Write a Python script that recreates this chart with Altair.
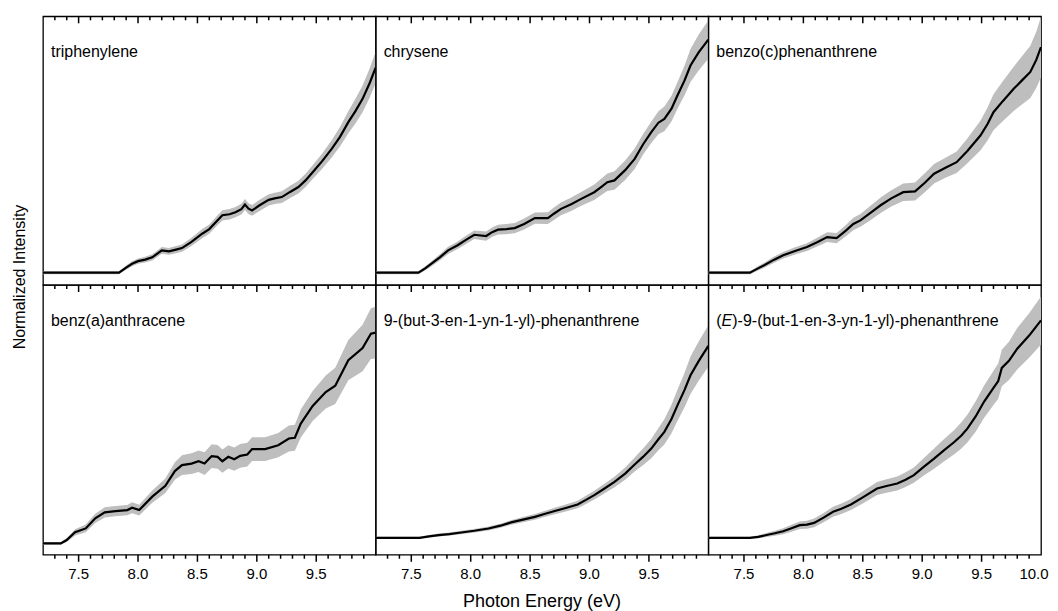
import altair as alt
import pandas as pd

# ---------------- data ----------------
names = ["triphenylene", "chrysene", "benzo(c)phenanthrene",
         "benz(a)anthracene", "9-(but-3-en-1-yn-1-yl)-phenanthrene",
         "(E)-9-(but-1-en-3-yn-1-yl)-phenanthrene"]

tri_x = [7.20, 7.84, 7.90, 7.95, 8.00, 8.06, 8.12, 8.20, 8.26, 8.32, 8.37, 8.45, 8.54, 8.60, 8.66, 8.71, 8.77, 8.82, 8.87,
         8.90, 8.93, 8.96, 9.02, 9.10, 9.15, 9.21, 9.28, 9.35, 9.41, 9.47, 9.55, 9.63, 9.70, 9.77, 9.83, 9.89, 9.95, 10.00]
tri_y = [0, 0, 0.020, 0.035, 0.045, 0.051, 0.060, 0.087, 0.083, 0.090, 0.096, 0.120, 0.152, 0.170, 0.200, 0.224, 0.228,
         0.236, 0.248, 0.266, 0.250, 0.243, 0.262, 0.284, 0.290, 0.295, 0.315, 0.334, 0.360, 0.392, 0.435, 0.483, 0.530,
         0.587, 0.630, 0.678, 0.740, 0.800]
tri_e = [0.006, 0.006, 0.008, 0.010, 0.010, 0.011, 0.012, 0.013, 0.013, 0.014, 0.014, 0.016, 0.018, 0.018, 0.019, 0.020,
         0.020, 0.020, 0.021, 0.021, 0.021, 0.021, 0.022, 0.022, 0.022, 0.023, 0.024, 0.025, 0.026, 0.027, 0.030, 0.034,
         0.038, 0.043, 0.048, 0.052, 0.057, 0.062]

chr_x = [7.20, 7.56, 7.62, 7.67, 7.74, 7.81, 7.89, 7.96, 8.03, 8.13, 8.18, 8.23, 8.30, 8.37, 8.45, 8.54, 8.65, 8.70, 8.76,
         8.85, 8.93, 9.04, 9.10, 9.15, 9.21, 9.30, 9.38, 9.45, 9.52, 9.58, 9.63, 9.69, 9.74, 9.80, 9.85, 9.92, 10.00]
chr_y = [0, 0, 0.018, 0.035, 0.060, 0.087, 0.107, 0.128, 0.148, 0.143, 0.158, 0.168, 0.170, 0.174, 0.190, 0.213, 0.213,
         0.230, 0.249, 0.268, 0.288, 0.314, 0.335, 0.353, 0.360, 0.400, 0.444, 0.500, 0.548, 0.585, 0.600, 0.640, 0.691,
         0.750, 0.808, 0.860, 0.909]
chr_e = [0.006, 0.006, 0.008, 0.010, 0.012, 0.014, 0.015, 0.016, 0.017, 0.018, 0.018, 0.019, 0.020, 0.020, 0.021, 0.022,
         0.023, 0.024, 0.025, 0.026, 0.027, 0.030, 0.032, 0.034, 0.036, 0.038, 0.040, 0.040, 0.042, 0.045, 0.048, 0.050,
         0.052, 0.058, 0.064, 0.070, 0.075]

bzc_x = [7.20, 7.55, 7.61, 7.67, 7.75, 7.83, 7.93, 8.03, 8.12, 8.20, 8.28, 8.36, 8.42, 8.48, 8.57, 8.65, 8.74, 8.84, 8.94,
         9.02, 9.10, 9.20, 9.29, 9.38, 9.49, 9.55, 9.60, 9.68, 9.77, 9.84, 9.91, 9.96, 10.00]
bzc_y = [0, 0, 0.015, 0.029, 0.050, 0.068, 0.085, 0.100, 0.120, 0.139, 0.135, 0.165, 0.190, 0.204, 0.235, 0.263, 0.290,
         0.314, 0.317, 0.350, 0.386, 0.410, 0.431, 0.475, 0.535, 0.580, 0.626, 0.670, 0.717, 0.750, 0.783, 0.830, 0.880]
bzc_e = [0.006, 0.006, 0.008, 0.010, 0.012, 0.013, 0.014, 0.015, 0.017, 0.019, 0.020, 0.022, 0.024, 0.025, 0.028, 0.030,
         0.032, 0.034, 0.035, 0.037, 0.038, 0.039, 0.042, 0.048, 0.058, 0.064, 0.070, 0.078, 0.086, 0.094, 0.102, 0.110,
         0.118]

baa_x = [7.20, 7.35, 7.40, 7.47, 7.56, 7.64, 7.72, 7.81, 7.91, 7.95, 8.01, 8.12, 8.23, 8.31, 8.37, 8.45, 8.51, 8.56, 8.62,
         8.67, 8.71, 8.76, 8.81, 8.86, 8.92, 8.96, 9.07, 9.18, 9.27, 9.32, 9.37, 9.47, 9.58, 9.66, 9.77, 9.89, 9.96, 10.00]
baa_y = [0, 0, 0.013, 0.043, 0.058, 0.097, 0.120, 0.125, 0.129, 0.138, 0.129, 0.181, 0.223, 0.280, 0.303, 0.309, 0.318,
         0.309, 0.338, 0.335, 0.318, 0.335, 0.326, 0.339, 0.344, 0.365, 0.365, 0.380, 0.406, 0.409, 0.464, 0.532, 0.586,
         0.610, 0.709, 0.756, 0.812, 0.816]
baa_e = [0.005, 0.005, 0.008, 0.012, 0.015, 0.018, 0.020, 0.020, 0.020, 0.021, 0.021, 0.024, 0.028, 0.034, 0.038, 0.040,
         0.042, 0.044, 0.046, 0.046, 0.045, 0.045, 0.045, 0.046, 0.046, 0.046, 0.046, 0.047, 0.050, 0.050, 0.054, 0.058,
         0.064, 0.070, 0.078, 0.090, 0.098, 0.100]

bey_x = [7.20, 7.57, 7.65, 7.73, 7.82, 7.92, 8.03, 8.15, 8.25, 8.34, 8.44, 8.54, 8.62, 8.70, 8.80, 8.90, 8.97, 9.04, 9.12,
         9.21, 9.30, 9.38, 9.45, 9.52, 9.58, 9.63, 9.69, 9.74, 9.80, 9.85, 9.92, 10.00]
bey_y = [0, 0, 0.006, 0.011, 0.015, 0.021, 0.028, 0.037, 0.048, 0.061, 0.072, 0.083, 0.094, 0.105, 0.118, 0.132, 0.150,
         0.169, 0.193, 0.221, 0.254, 0.290, 0.320, 0.353, 0.390, 0.419, 0.470, 0.524, 0.585, 0.643, 0.700, 0.759]
bey_e = [0.004, 0.004, 0.005, 0.006, 0.006, 0.007, 0.007, 0.008, 0.008, 0.009, 0.010, 0.011, 0.012, 0.013, 0.014, 0.015,
         0.016, 0.017, 0.019, 0.021, 0.024, 0.028, 0.033, 0.038, 0.044, 0.050, 0.056, 0.062, 0.068, 0.074, 0.078, 0.082]

ebe_x = [7.20, 7.55, 7.62, 7.69, 7.76, 7.83, 7.90, 7.97, 8.03, 8.09, 8.17, 8.25, 8.32, 8.40, 8.50, 8.62, 8.70, 8.79, 8.86,
         8.93, 9.01, 9.10, 9.18, 9.27, 9.33, 9.38, 9.45, 9.52, 9.60, 9.64, 9.67, 9.73, 9.80, 9.90, 10.00]
ebe_y = [0, 0, 0.004, 0.011, 0.018, 0.026, 0.038, 0.050, 0.052, 0.059, 0.080, 0.103, 0.115, 0.132, 0.160, 0.195, 0.205,
         0.215, 0.230, 0.248, 0.280, 0.313, 0.345, 0.379, 0.405, 0.432, 0.480, 0.538, 0.593, 0.620, 0.672, 0.700, 0.748,
         0.800, 0.860]
ebe_e = [0.004, 0.004, 0.006, 0.008, 0.010, 0.012, 0.014, 0.015, 0.016, 0.017, 0.018, 0.020, 0.021, 0.022, 0.024, 0.026,
         0.027, 0.028, 0.029, 0.030, 0.034, 0.040, 0.044, 0.048, 0.052, 0.055, 0.060, 0.064, 0.068, 0.070, 0.072, 0.076,
         0.082, 0.088, 0.095]

y_min = [-0.048, -0.048, -0.048, -0.044, -0.067, -0.067]

major_ticks = [7.5, 8.0, 8.5, 9.0, 9.5]
label_ticks = [7.5, 8.0, 8.5, 9.0, 9.5]
last_label = [10.0]
minor_ticks = [7.3, 7.4, 7.6, 7.7, 7.8, 7.9, 8.1, 8.2, 8.3, 8.4, 8.6, 8.7, 8.8, 8.9,
               9.1, 9.2, 9.3, 9.4, 9.6, 9.7, 9.8, 9.9]
x_title = "Photon Energy (eV)"
y_title = "Normalized Intensity"

series = [(tri_x, tri_y, tri_e), (chr_x, chr_y, chr_e), (bzc_x, bzc_y, bzc_e),
          (baa_x, baa_y, baa_e), (bey_x, bey_y, bey_e), (ebe_x, ebe_y, ebe_e)]

FONT = "Liberation Sans"
W = 333
H_TOP, H_BOT = 269, 270
MAJ, MIN = 7, 4


def panel(i):
    xs, ys, es = series[i]
    df = pd.DataFrame({"x": xs, "y": ys,
                       "lo": [a - b for a, b in zip(ys, es)],
                       "hi": [a + b for a, b in zip(ys, es)]})
    bottom = i >= 3
    h = H_BOT if bottom else H_TOP
    xscale = alt.Scale(domain=[7.2, 10.0], nice=False, zero=False)
    yscale = alt.Scale(domain=[y_min[i], 1.0], nice=False, zero=False)

    def X(field):
        return alt.X(field, scale=xscale, axis=None)

    base = alt.Chart(df)
    band = base.mark_area(color="#bebebe", clip=True).encode(
        x=X("x:Q"), y=alt.Y("lo:Q", scale=yscale, axis=None), y2="hi:Q")
    line = base.mark_line(color="black", strokeWidth=2.2, clip=True).encode(
        x=X("x:Q"), y=alt.Y("y:Q", scale=yscale, axis=None))
    layers = [band, line]

    # tick marks (inward at the top of each panel, outward at the bottom of the lower row)
    maj_df = pd.DataFrame({"tick": major_ticks})
    min_df = pd.DataFrame({"tick": minor_ticks})
    for tdf, size in ((maj_df, MAJ), (min_df, MIN)):
        layers.append(alt.Chart(tdf).mark_rule(color="black", strokeWidth=1.5).encode(
            x=X("tick:Q"), y=alt.value(0), y2=alt.value(size)))
        if bottom:
            layers.append(alt.Chart(tdf).mark_rule(color="black", strokeWidth=1.5).encode(
                x=X("tick:Q"), y=alt.value(h), y2=alt.value(h + size)))

    if bottom:
        layers.append(alt.Chart(pd.DataFrame({"lab": label_ticks})).mark_text(
            align="center", baseline="middle", fontSize=15, font=FONT, color="black").encode(
            x=X("lab:Q"), y=alt.value(h + 19), text=alt.Text("lab:Q", format=".1f")))
        if i == 5:
            layers.append(alt.Chart(pd.DataFrame({"lab": last_label})).mark_text(
                align="center", baseline="middle", fontSize=15, font=FONT, color="black", dx=-7).encode(
                x=X("lab:Q"), y=alt.value(h + 19), text=alt.Text("lab:Q", format=".1f")))
        if i == 4:
            layers.append(alt.Chart(pd.DataFrame({"t": [x_title]})).mark_text(
                align="center", baseline="middle", fontSize=18, font=FONT, color="black").encode(
                text="t:N", x=alt.value(W / 2), y=alt.value(h + 47)))

    if i == 0:
        layers.append(alt.Chart(pd.DataFrame({"t": [y_title]})).mark_text(
            angle=270, align="center", baseline="middle", fontSize=16, font=FONT, color="black").encode(
            text="t:N", x=alt.value(-23), y=alt.value(261)))

    if i == 5:
        parts = [("(", "normal", 8), ("E", "italic", 13.3), (")-9-(but-1-en-3-yn-1-yl)-phenanthrene", "normal", 24)]
        for txt, style, px in parts:
            layers.append(alt.Chart(pd.DataFrame({"t": [txt]})).mark_text(
                align="left", baseline="middle", fontSize=16, font=FONT, fontStyle=style,
                color="black").encode(text="t:N", x=alt.value(px), y=alt.value(36)))
    else:
        layers.append(alt.Chart(pd.DataFrame({"t": [names[i]]})).mark_text(
            align="left", baseline="middle", fontSize=16, font=FONT, color="black").encode(
            text="t:N", x=alt.value(8), y=alt.value(36)))

    return alt.layer(*layers).properties(width=W, height=h)


chart = alt.concat(*[panel(i) for i in range(6)], columns=3, spacing=0, bounds="flush").properties(
    padding={"left": 3, "top": 6, "right": 0, "bottom": 0},
    background="white"
).configure_view(stroke="black", strokeWidth=1.3)

chart.save("out.html", embed_options={"renderer": "svg", "actions": False})
